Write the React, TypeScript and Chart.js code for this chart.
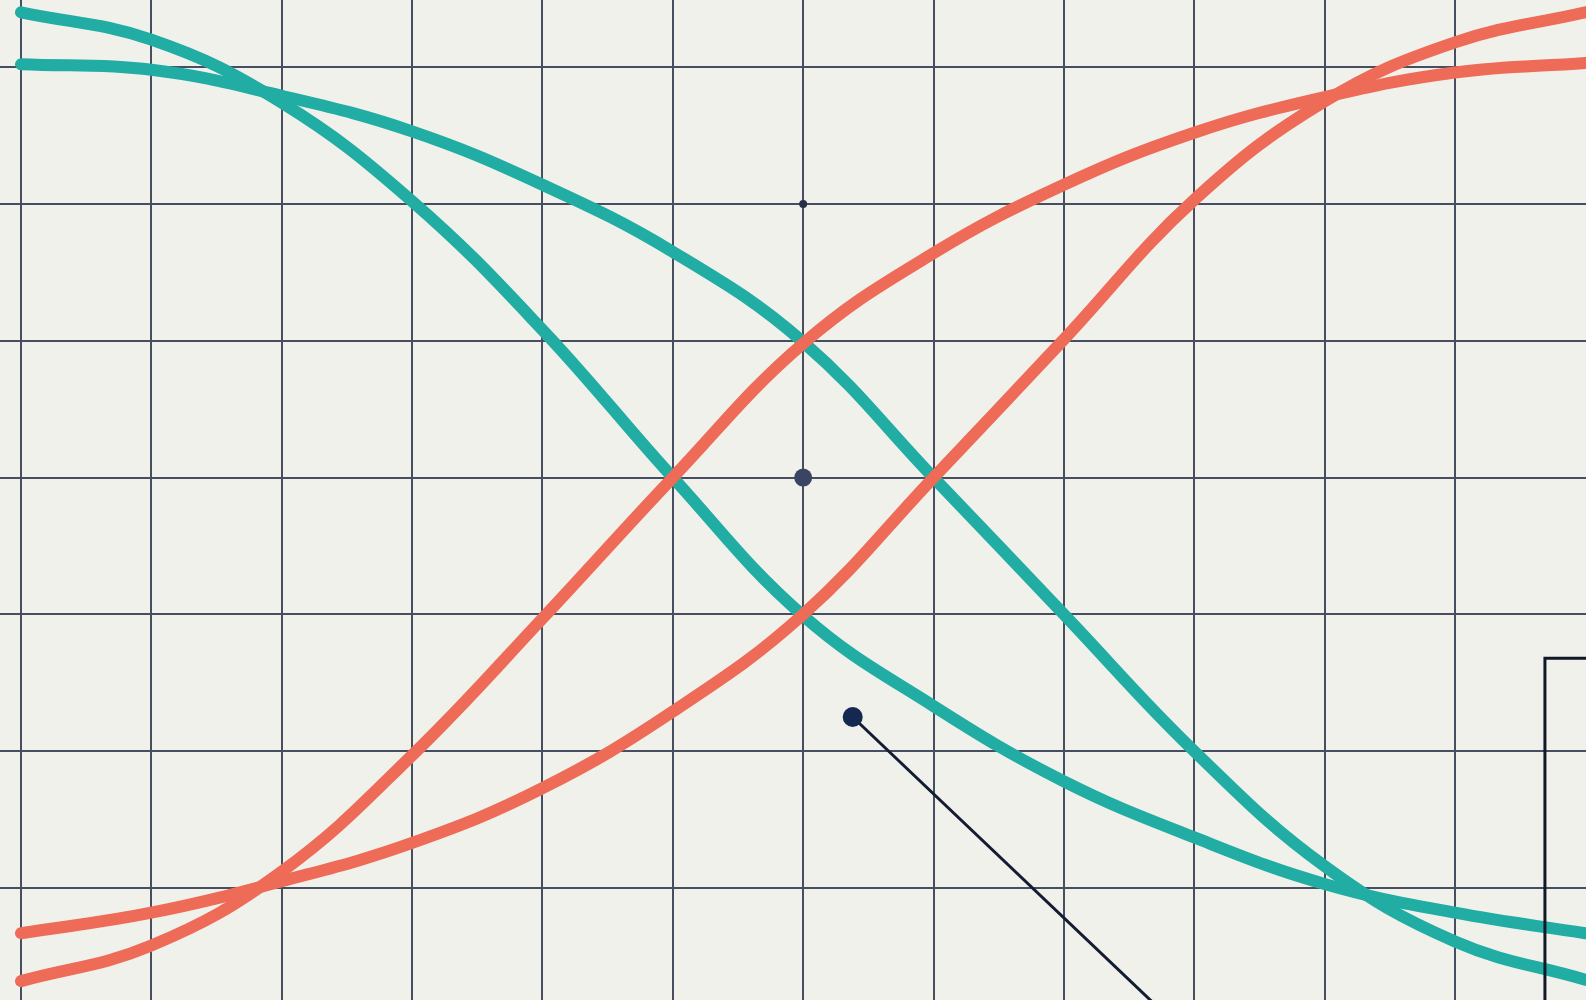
import React, { useEffect, useRef } from "react";
import { Chart, registerables } from "chart.js";

Chart.register(...registerables);

// Grid positions (in grid units)
const gridX = [0, 1, 2, 3, 4, 5, 6, 7, 8, 9, 10, 11];
const gridY = [-3, -2, -1, 0, 1, 2, 3];

// Curve samples, read at each vertical grid line
const xPositions = [0, 1, 2, 3, 4, 5, 6, 7, 8, 9, 10, 11, 12];
const tealSteep = [3.4, 3.2, 2.74, 2.02, 1.08, 0.0, -1.01, -1.67, -2.22, -2.63, -2.97, -3.18, -3.33];
const tealShallow = [3.02, 2.98, 2.79, 2.53, 2.14, 1.65, 0.99, 0.0, -1.0, -2.0, -2.84, -3.39, -3.67];
const coralSteep = [-3.68, -3.42, -2.88, -2.03, -1.03, 0.0, 0.98, 1.64, 2.14, 2.52, 2.78, 2.96, 3.03];
const coralShallow = [-3.33, -3.18, -2.95, -2.67, -2.27, -1.71, -1.0, 0.0, 1.01, 2.03, 2.75, 3.18, 3.4];

// Markers
const markerX = [6, 6, 6.38];
const markerY = [2, 0, -1.75];
const markerSize = [4, 9, 10];
const markerColor = ["#27304a", "#3a4564", "#15284f"];

// Pointer line from the lower marker
const pointerX = [6.38, 9.04];
const pointerY = [-1.75, -4.16];

// Partial frame at the lower right
const frameX = [11.69, 11.69, 12.6];
const frameY = [-4.3, -1.32, -1.32];

const X_MIN = -0.161;
const X_MAX = 12.005;
const Y_MIN = -3.818;
const Y_MAX = 3.49;

const toPts = (xs: number[], ys: number[]) => xs.map((x, i) => ({ x, y: ys[i] }));

export default function App() {
  const ref = useRef<HTMLCanvasElement | null>(null);

  useEffect(() => {
    if (!ref.current) return;
    const bg = {
      id: "bg",
      beforeDraw(chart: any) {
        const { ctx, width, height } = chart;
        ctx.save();
        ctx.fillStyle = "#f1f1ec";
        ctx.fillRect(0, 0, width, height);
        ctx.restore();
      },
    };
    const curve = (data: number[], color: string) => ({
      data: toPts(xPositions, data),
      showLine: true,
      borderColor: color,
      backgroundColor: color,
      borderWidth: 12,
      pointRadius: 0,
      tension: 0.4,
      borderCapStyle: "round" as const,
      borderJoinStyle: "round" as const,
      fill: false,
    });
    const chart = new Chart(ref.current, {
      type: "scatter",
      data: {
        datasets: [
          {
            data: toPts(markerX, markerY),
            pointRadius: markerSize,
            pointHoverRadius: markerSize,
            pointBackgroundColor: markerColor,
            pointBorderWidth: 0,
            showLine: false,
          } as any,
          {
            data: toPts(pointerX, pointerY),
            showLine: true,
            borderColor: "#141c33",
            borderWidth: 3,
            pointRadius: 0,
          },
          {
            data: toPts(frameX, frameY),
            showLine: true,
            borderColor: "#111827",
            borderWidth: 3,
            pointRadius: 0,
            borderJoinStyle: "miter",
          },
          curve(coralSteep, "#ee6b57"),
          curve(coralShallow, "#ee6b57"),
          curve(tealSteep, "#21ada3"),
          curve(tealShallow, "#21ada3"),
        ],
      },
      options: {
        animation: false,
        responsive: false,
        devicePixelRatio: 1,
        layout: { padding: 0, autoPadding: false },
        plugins: { legend: { display: false }, tooltip: { enabled: false } },
        events: [],
        scales: {
          x: {
            type: "linear",
            min: X_MIN,
            max: X_MAX,
            afterBuildTicks: (s: any) => {
              s.ticks = gridX.map((v) => ({ value: v }));
            },
            ticks: { display: false },
            grid: { color: "#474e61", lineWidth: 2, drawTicks: false },
            border: { display: false },
          },
          y: {
            type: "linear",
            min: Y_MIN,
            max: Y_MAX,
            afterBuildTicks: (s: any) => {
              s.ticks = gridY.map((v) => ({ value: v }));
            },
            ticks: { display: false },
            grid: { color: "#474e61", lineWidth: 2, drawTicks: false },
            border: { display: false },
          },
        },
      },
      plugins: [bg],
    });
    return () => chart.destroy();
  }, []);

  return (
    <div style={{ position: "fixed", left: 0, top: 0, width: 1586, height: 1000, background: "#f1f1ec" }}>
      <canvas ref={ref} width={1586} height={1000} style={{ display: "block" }} />
    </div>
  );
}
